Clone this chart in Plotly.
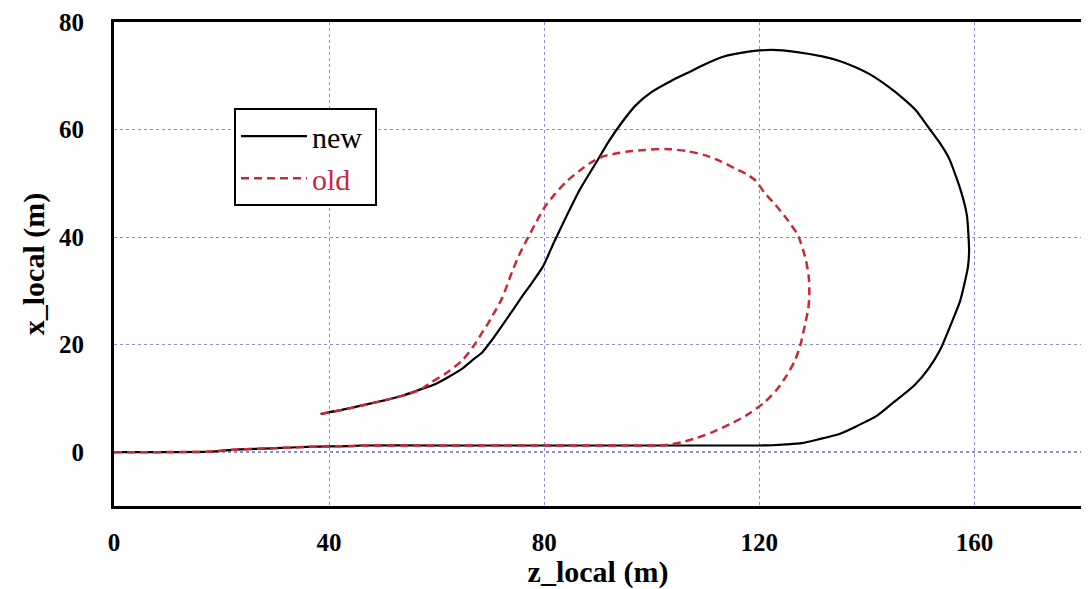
import plotly.graph_objects as go

# ---- data (z_local, x_local) ----
new_z = [0, 10, 18, 22, 30, 36, 44, 46, 60, 80, 100, 115, 120, 122.4, 125, 127.9, 131, 134.9,
         138, 141.9, 145, 148.8, 151.5, 153.7, 155.8, 157.3, 158.2, 158.8, 159.0, 158.6, 157.5,
         155.3, 153.5, 151.6, 149.1, 146.5, 144.1, 140.5, 137.9, 134.5, 131.7, 127, 122.4,
         118, 113.1, 110, 107, 103.5, 100, 97, 94.5, 92, 89.5, 86.6, 84.0, 81.8, 79.8, 77.8,
         75.9, 74, 72.2, 70.3, 68.5, 66.5, 64.7, 62.2, 59.8, 56.5, 53.6, 50.5, 47.4, 43, 38.4]
new_x = [0, 0.02, 0.1, 0.45, 0.75, 1.0, 1.15, 1.25, 1.25, 1.25, 1.25, 1.25, 1.25, 1.3, 1.45, 1.7, 2.4, 3.4,
         4.8, 6.8, 9.3, 12.4, 15.6, 19.2, 24.2, 28, 31.6, 34.5, 37.5, 44, 48.5,
         54.6, 57.6, 60.2, 63.6, 66, 67.9, 70.3, 71.6, 72.9, 73.6, 74.4, 74.8,
         74.5, 73.5, 72.2, 70.7, 69.0, 67, 64.5, 61.4, 57.8, 53.6, 48.8, 43.6, 39.0, 34.6, 31.6,
         29.0, 26.2, 23.6, 20.9, 18.6, 17.0, 15.5, 14.0, 12.7, 11.5, 10.5, 9.7, 9.0, 8.0, 7.1]

old_z = [0, 10, 18, 22, 30, 36, 44, 46, 60, 80, 95, 101.4, 103.5, 105.6, 108.5, 111.2, 114.5,
         117.5, 121, 123.3, 125.1, 126.6, 127.6, 128.6, 129.1, 129.3, 129.2, 128.6, 127.2,
         125.1, 123, 121, 119.3, 117.5, 115.6, 112.8, 110, 106.5, 102.6, 98.7, 95.5, 93.1,
         91, 88.9, 86.5, 84, 81.9, 79.9, 78.2, 76.6, 75.3, 74, 72.2, 70.9, 69.7, 68.3, 66.9,
         64.7, 61.6, 59, 56.7, 53.6, 50.5, 47.4, 43, 38.4]
old_x = [0, 0.02, 0.1, 0.45, 0.75, 1.0, 1.15, 1.25, 1.25, 1.25, 1.25, 1.25, 1.45, 1.86, 2.7, 3.7, 5.2,
         6.8, 9.3, 11.7, 14.3, 17.0, 19.8, 24.2, 26.7, 29.1, 32.5, 36, 40.3,
         43.4, 46.0, 48.2, 50.5, 51.8, 52.7, 54.1, 55.2, 56.0, 56.4, 56.2, 55.9, 55.5,
         55.0, 54.0, 52.3, 50.2, 47.9, 45.3, 42.2, 39.2, 36.6, 33.5, 28.7, 26.3, 24.2, 22.0, 19.8,
         17.0, 14.6, 13.0, 11.5, 10.5, 9.7, 9.0, 8.0, 7.1]

x_ticks = [0, 40, 80, 120, 160]
y_ticks = [0, 20, 40, 60, 80]

FONT = "Liberation Serif, Times New Roman, serif"
RED = "#c8283a"

fig = go.Figure()
fig.add_trace(go.Scatter(x=new_z, y=new_x, mode="lines", name="new&nbsp;",
                         line=dict(color="black", width=2.2, shape="spline", smoothing=0.6),
                         legendrank=1))
fig.add_trace(go.Scatter(x=old_z, y=old_x, mode="lines",
                         name="<span style='color:%s'>old</span>&nbsp;" % RED,
                         line=dict(color=RED, width=2.5, dash="8px,5px", shape="spline", smoothing=0.6),
                         legendrank=2))

# darker dotted line along x_local = 0
fig.add_shape(type="line", xref="paper", x0=0, x1=1, yref="y", y0=0, y1=0,
              line=dict(color="#2a2a5a", width=1.2, dash="dot"), layer="below")

axis_common = dict(showline=True, linecolor="black", linewidth=3, mirror=True,
                   showgrid=True, gridcolor="#8e8ec4", griddash="dot", gridwidth=1,
                   zeroline=False, ticks="", automargin=False, ticklabeloverflow="allow",
                   tickfont=dict(family=FONT, size=25, color="black", weight="bold"))

fig.update_xaxes(range=[0, 180], tickvals=x_ticks, ticklabelstandoff=12,
                 title=dict(text="z_local (m)", standoff=2,
                            font=dict(family=FONT, size=30, color="black", weight="bold")),
                 **axis_common)
fig.update_yaxes(range=[-10, 80], tickvals=y_ticks, ticklabelstandoff=22,
                 title=dict(text="x_local (m)", standoff=6,
                            font=dict(family=FONT, size=30, color="black", weight="bold")),
                 **axis_common)

# the page adds a small body margin, so the figure is sized to the visible area
fig.update_layout(
    width=1081, height=581,
    margin=dict(l=106, r=7, t=14, b=83),
    plot_bgcolor="white", paper_bgcolor="white",
    font=dict(family=FONT, color="black"),
    showlegend=True,
    legend=dict(x=0.124, y=0.822, xanchor="left", yanchor="top",
                bgcolor="white", bordercolor="black", borderwidth=2,
                font=dict(family=FONT, size=30, color="black"),
                itemwidth=66, tracegroupgap=0),
)

fig.write_html("out.html")
